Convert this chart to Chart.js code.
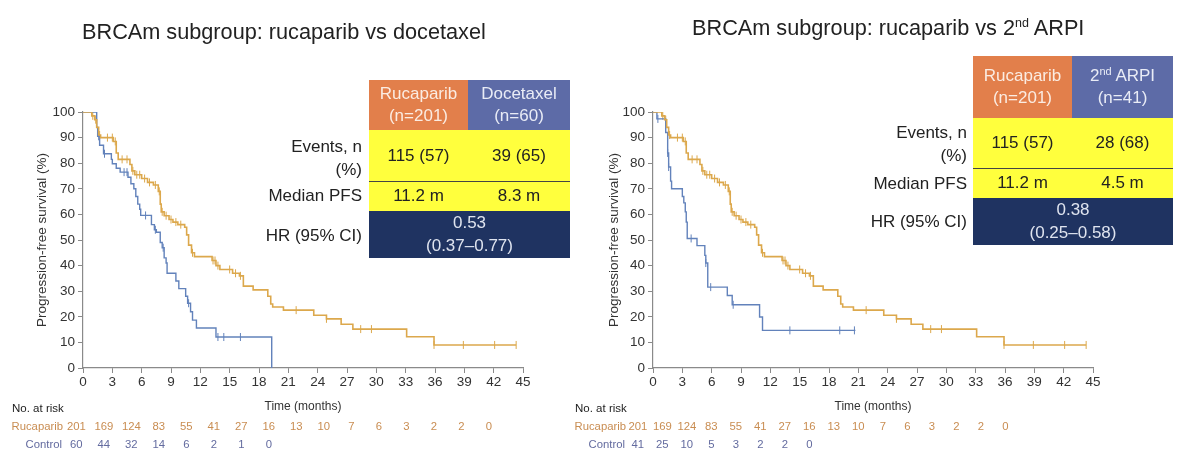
<!DOCTYPE html>
<html>
<head>
<meta charset="utf-8">
<script src="https://cdn.jsdelivr.net/npm/chart.js@4.4.1/dist/chart.umd.min.js"></script>
<style>
  body { margin: 0; background: #fff; font-family: "Liberation Sans", Arial, sans-serif; }
  #page { position: relative; width: 1200px; height: 467px; overflow: hidden; }
  canvas { position: absolute; top: 0; }
  .title { position: absolute; font-size: 21.7px; color: #222; white-space: nowrap; }
  .title sup { font-size: 12.5px; vertical-align: 8px; line-height: 0; }
  .tbl { position: absolute; font-size: 17px; text-align: center; }
  .row { display: flex; }
  .cell { display: flex; flex-direction: column; align-items: center; justify-content: center; line-height: 22px; white-space: nowrap; }
  .lbl { position: absolute; font-size: 17px; color: #222; text-align: right; white-space: nowrap; line-height: 22px; }
  sup.s { font-size: 11px; vertical-align: 6px; line-height: 0; }
</style>
</head>
<body>
<div id="page">
  <canvas id="leftChart" width="575" height="467" style="left:0"></canvas>
  <canvas id="rightChart" width="640" height="467" style="left:560px"></canvas>
  <div class="title" style="left:82px; top:19px">BRCAm subgroup: rucaparib vs docetaxel</div>
  <div class="title" style="left:692px; top:15px">BRCAm subgroup: rucaparib vs 2<sup>nd</sup> ARPI</div>
  <div id="leftTable"></div>
  <div id="rightTable"></div>
</div>
<script>
// x axis ticks / at-risk time points (months)
const xTicks = [0, 3, 6, 9, 12, 15, 18, 21, 24, 27, 30, 33, 36, 39, 42, 45];

// Rucaparib (same arm in both panels)
const rucaTimes = [0, 0.9, 1.2, 1.4, 1.6, 1.8, 3.1, 3.4, 3.6, 4.8, 5.0, 5.3, 6.0, 6.6, 7.2, 7.7, 7.9, 8.0, 8.3, 8.8, 9.2, 9.7, 10.4, 10.6, 10.8, 11.1, 11.4, 13.2, 13.6, 14.0, 15.3, 16.0, 16.4, 17.4, 18.9, 19.2, 19.4, 20.5, 23.6, 24.9, 26.4, 27.6, 33.1, 35.9, 44.3];
const rucaSurv  = [100, 98.5, 97, 94, 91, 90, 88.5, 84, 81.5, 79.5, 77, 75.5, 74, 72.5, 71.5, 69, 64, 61, 59.5, 58, 57, 56, 55, 52, 48, 45, 43.5, 42, 40, 38.5, 37, 36, 32, 30.5, 28, 25, 23.8, 22.6, 20.6, 19.2, 17.1, 15.2, 12.2, 9, 9];
const rucaCensor = [1.0, 1.3, 1.7, 2.5, 3.0, 3.3, 4.0, 4.5, 5.1, 5.5, 5.8, 6.3, 6.8, 7.4, 7.8, 8.1, 8.5, 9.0, 9.5, 10.0, 11.2, 13.3, 13.5, 13.8, 15.0, 15.6, 16.1, 21.8, 24.9, 28.4, 29.5, 35.9, 38.9, 42.1, 44.3];
const rucaRisk = [201, 169, 124, 83, 55, 41, 27, 16, 13, 10, 7, 6, 3, 2, 2, 0];

// Docetaxel control
const doceTimes = [0, 1.4, 1.5, 1.7, 2.1, 2.9, 3.0, 3.4, 3.8, 4.6, 4.9, 5.2, 5.4, 5.6, 5.8, 5.9, 7.0, 7.3, 7.5, 7.9, 8.1, 8.3, 8.5, 8.6, 9.5, 9.8, 10.5, 10.7, 11.0, 11.2, 11.6, 13.6, 19.3, 19.3];
const doceSurv  = [100, 94, 90.5, 87, 83.7, 81.5, 79.8, 78, 76.5, 74.5, 72, 70, 67, 64, 62, 59.6, 56, 54, 53, 49, 47, 43, 41, 37, 34, 31, 28, 25.3, 22, 18.7, 15.6, 12.1, 12.1, 0];
const doceCensor = [1.6, 2.2, 4.2, 4.5, 6.4, 7.4, 8.2, 10.8, 13.8, 14.4, 16.1];
const doceRisk = [60, 44, 32, 14, 6, 2, 1, 0];

// 2nd ARPI control
const arpiTimes = [0, 0.4, 1.3, 1.5, 1.6, 1.8, 1.9, 3.0, 3.15, 3.3, 3.4, 3.5, 4.5, 5.3, 5.4, 5.6, 7.6, 8.1, 10.9, 11.2, 20.7];
const arpiSurv  = [100, 97.3, 92, 84, 78.5, 73, 70, 67, 64.5, 61, 57, 50.6, 47.8, 44, 41, 31.6, 28.3, 24.7, 19.9, 14.7, 14.7];
const arpiCensor = [0.5, 1.5, 1.6, 3.9, 5.4, 5.9, 8.2, 14.0, 19.1, 20.6];
const arpiRisk = [41, 25, 10, 5, 3, 2, 2, 0];

// summary tables
const leftHeads = [['Rucaparib', '(n=201)'], ['Docetaxel', '(n=60)']];
const leftEvents = ['115 (57)', '39 (65)'];
const leftMedian = ['11.2 m', '8.3 m'];
const leftHR = ['0.53', '(0.37–0.77)'];
const rightHeads = [['Rucaparib', '(n=201)'], ['2<sup class="s">nd</sup> ARPI', '(n=41)']];
const rightEvents = ['115 (57)', '28 (68)'];
const rightMedian = ['11.2 m', '4.5 m'];
const rightHR = ['0.38', '(0.25–0.58)'];

const ORANGE = '#dca84c';
const BLUE = '#6282bb';
const ORANGE_TXT = '#c98d52';
const BLUE_TXT = '#636b9f';

function steps(times, surv) {
  return times.map((t, i) => ({ x: t, y: surv[i] }));
}
function survAt(times, surv, t) {
  let s = surv[0];
  for (let i = 0; i < times.length; i++) {
    if (times[i] <= t) s = surv[i];
  }
  return s;
}
function censorPts(ct, times, surv) {
  return ct.map(t => ({ x: t, y: survAt(times, surv, t) }));
}
function lines(arr) {
  return arr.map(s => '<div>' + s + '</div>').join('');
}

function buildTable(id, left, top, widths, heights, heads, events, median, hr) {
  const el = document.getElementById(id);
  el.className = 'tbl';
  el.style.left = left + 'px';
  el.style.top = top + 'px';
  const w = widths[0] + widths[1];
  let html = '<div class="row">' +
    '<div class="cell" style="width:' + widths[0] + 'px;height:' + heights[0] + 'px;background:#e27f4b;color:#fbece2">' + lines(heads[0]) + '</div>' +
    '<div class="cell" style="width:' + widths[1] + 'px;height:' + heights[0] + 'px;background:#5d6ba7;color:#e9ecf6">' + lines(heads[1]) + '</div></div>';
  html += '<div class="row" style="background:#ffff3d;color:#222">' +
    '<div class="cell" style="width:' + widths[0] + 'px;height:' + heights[1] + 'px">' + events[0] + '</div>' +
    '<div class="cell" style="width:' + widths[1] + 'px;height:' + heights[1] + 'px">' + events[1] + '</div></div>';
  html += '<div class="row" style="background:#ffff3d;color:#222;border-top:1.5px solid #444;">' +
    '<div class="cell" style="width:' + widths[0] + 'px;height:' + (heights[2] - 1.5) + 'px">' + median[0] + '</div>' +
    '<div class="cell" style="width:' + widths[1] + 'px;height:' + (heights[2] - 1.5) + 'px">' + median[1] + '</div></div>';
  html += '<div class="row" style="background:#1f3361;color:#dfe4ef">' +
    '<div class="cell" style="width:' + w + 'px;height:' + heights[3] + 'px;line-height:23px">' + lines(hr) + '</div></div>';
  el.innerHTML = html;
}

function addLabels(rightEdge, ys) {
  const page = document.getElementById('page');
  const texts = ['Events, n', '(%)', 'Median PFS', 'HR (95% CI)'];
  texts.forEach((t, i) => {
    const d = document.createElement('div');
    d.className = 'lbl';
    d.style.right = (1200 - rightEdge) + 'px';
    d.style.top = (ys[i] - 11) + 'px';
    d.textContent = t;
    page.appendChild(d);
  });
}

buildTable('leftTable', 369, 80, [99, 102], [50, 51, 30, 47], leftHeads, leftEvents, leftMedian, leftHR);
buildTable('rightTable', 973, 56, [99, 101], [62, 50, 30, 47], rightHeads, rightEvents, rightMedian, rightHR);
addLabels(362, [147, 170, 196, 236]);
addLabels(967, [133, 156, 184, 222]);

function atRiskPlugin(ctlRisk, labelRight, riskX0, riskStep) {
  return {
    id: 'atRisk',
    afterDraw(chart) {
      const ctx = chart.ctx;
      const xs = chart.scales.x;
      const x0 = xs.getPixelForValue(0);
      const unit = xs.getPixelForValue(3) - x0;
      ctx.save();
      ctx.font = '11.5px "Liberation Sans", Arial, sans-serif';
      ctx.textBaseline = 'middle';
      ctx.fillStyle = '#222';
      ctx.textAlign = 'left';
      ctx.fillText('No. at risk', labelRight - 51, 409);
      ctx.font = '11.3px "Liberation Sans", Arial, sans-serif';
      ctx.textAlign = 'right';
      ctx.fillStyle = ORANGE_TXT;
      ctx.fillText('Rucaparib', labelRight, 427);
      ctx.fillStyle = BLUE_TXT;
      ctx.fillText('Control', labelRight - 1, 445);
      ctx.textAlign = 'center';
      xTicks.forEach((t, i) => {
        const px = x0 + riskX0 + (xs.getPixelForValue(t) - x0) * riskStep / unit;
        ctx.fillStyle = ORANGE_TXT;
        ctx.fillText(String(rucaRisk[i]), px, 427);
        if (i < ctlRisk.length) {
          ctx.fillStyle = BLUE_TXT;
          ctx.fillText(String(ctlRisk[i]), px, 445);
        }
      });
      ctx.restore();
    }
  };
}

function makeChart(id, ctlTimes, ctlSurv, ctlCensor, ctlRisk, pad, yWidth, labelRight, riskX0, riskStep) {
  const family = '"Liberation Sans", Arial, sans-serif';
  const tickFont = { family: family, size: 13.5 };
  return new Chart(document.getElementById(id).getContext('2d'), {
    type: 'line',
    data: {
      datasets: [
        { data: steps(rucaTimes, rucaSurv), borderColor: ORANGE, borderWidth: 1.6, stepped: 'before', pointRadius: 0, fill: false },
        { data: steps(ctlTimes, ctlSurv), borderColor: BLUE, borderWidth: 1.4, stepped: 'before', pointRadius: 0, fill: false },
        { type: 'scatter', data: censorPts(rucaCensor, rucaTimes, rucaSurv), borderColor: ORANGE, borderWidth: 1, pointStyle: 'line', rotation: 90, pointRadius: 4, showLine: false },
        { type: 'scatter', data: censorPts(ctlCensor, ctlTimes, ctlSurv), borderColor: BLUE, borderWidth: 1, pointStyle: 'line', rotation: 90, pointRadius: 4, showLine: false }
      ]
    },
    options: {
      responsive: false,
      animation: false,
      devicePixelRatio: 1,
      layout: { padding: pad },
      plugins: { legend: { display: false }, tooltip: { enabled: false } },
      scales: {
        x: {
          type: 'linear', min: 0, max: 45,
          afterBuildTicks: s => { s.ticks = xTicks.map(v => ({ value: v })); },
          afterFit: s => { s.height = 48; },
          ticks: { color: '#333', font: tickFont, padding: 1, maxRotation: 0, autoSkip: false },
          grid: { drawOnChartArea: false, drawTicks: true, tickLength: 5, color: '#8a8a8a' },
          border: { color: '#8a8a8a', width: 1.2 },
          title: { display: true, text: 'Time (months)', color: '#333', font: { family: family, size: 12 }, padding: { top: 4, bottom: 2 } }
        },
        y: {
          min: 0, max: 100,
          ticks: { stepSize: 10, color: '#333', font: tickFont, padding: 3 },
          afterFit: s => { s.width = yWidth; },
          grid: { drawOnChartArea: false, drawTicks: true, tickLength: 5, color: '#8a8a8a' },
          border: { color: '#8a8a8a', width: 1.2 },
          title: { display: true, text: 'Progression-free survival (%)', color: '#333', font: { family: family, size: 13.5 }, padding: { top: 4, bottom: 4 } }
        }
      }
    },
    plugins: [atRiskPlugin(ctlRisk, labelRight, riskX0, riskStep)]
  });
}

makeChart('leftChart', doceTimes, doceSurv, doceCensor, doceRisk,
  { left: 30, top: 112, right: 52, bottom: 51 }, 53, 63, -6.7, 27.5);
makeChart('rightChart', arpiTimes, arpiSurv, arpiCensor, arpiRisk,
  { left: 42, top: 112, right: 107, bottom: 51 }, 51, 66, -15.2, 24.5);
</script>
</body>
</html>
